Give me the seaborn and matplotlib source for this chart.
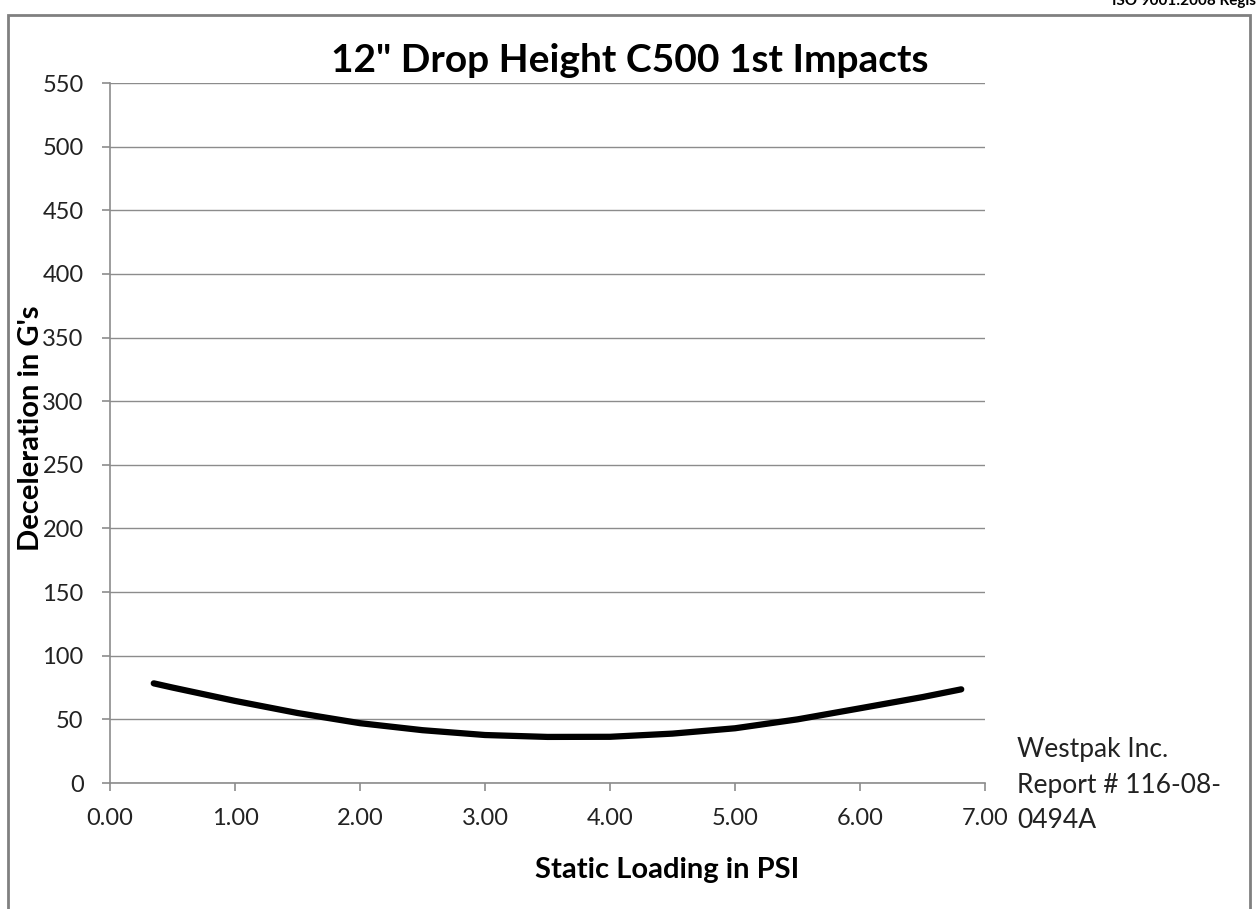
import matplotlib
matplotlib.use("Agg")
import matplotlib.pyplot as plt
import seaborn as sns
import pandas as pd
from matplotlib.patches import Rectangle

# Data
static_loading_psi = [0.35, 0.5, 1.0, 1.5, 2.0, 2.5, 3.0, 3.5, 4.0, 4.5, 5.0, 5.5, 6.0, 6.5, 6.81]
deceleration_g = [78.3, 75.0, 64.5, 55.0, 47.0, 41.5, 37.7, 36.2, 36.3, 38.8, 43.0, 50.0, 58.7, 67.5, 73.6]
y_ticks = [0, 50, 100, 150, 200, 250, 300, 350, 400, 450, 500, 550]
x_ticks = [0, 1, 2, 3, 4, 5, 6, 7]
x_tick_labels = ["0.00", "1.00", "2.00", "3.00", "4.00", "5.00", "6.00", "7.00"]

title = '12" Drop Height C500 1st Impacts'
x_label = "Static Loading in PSI"
y_label = "Deceleration in G's"
note_lines = ["Westpak Inc.", "Report # 116-08-", "0494A"]

sns.set_theme(style="white")
plt.rcParams["font.family"] = ["Lato", "DejaVu Sans"]

df = pd.DataFrame({"psi": static_loading_psi, "g": deceleration_g})

W, H = 1256, 909
fig = plt.figure(figsize=(12.56, 9.09), dpi=100)
ax = fig.add_axes([110 / W, 1 - 783 / H, 875 / W, 700 / H])

sns.lineplot(data=df, x="psi", y="g", ax=ax, color="black", linewidth=4.5,
             solid_capstyle="round", sort=True)

ax.set_xlim(0, 7)
ax.set_ylim(0, 550)
ax.set_yticks(y_ticks)
ax.set_xticks(x_ticks)
ax.set_xticklabels(x_tick_labels)
ax.yaxis.grid(True, color="#8c8c8c", linewidth=1)
ax.xaxis.grid(False)
ax.set_axisbelow(True)
for s in ["top", "right"]:
    ax.spines[s].set_visible(False)
for s in ["left", "bottom"]:
    ax.spines[s].set_color("#8c8c8c")
    ax.spines[s].set_linewidth(1.2)
ax.tick_params(axis="both", which="major", length=6, width=1.2, color="#8c8c8c",
               labelsize=17, labelcolor="#222222", direction="out", bottom=True, left=True)
ax.tick_params(axis="x", pad=12)
ax.tick_params(axis="y", pad=13)
ax.set_xlabel("")
ax.set_ylabel("")

fig.text(630 / W, 1 - 60 / H, title, ha="center", va="center", fontsize=28,
         fontweight="bold", color="black")
fig.text(667 / W, 1 - 870 / H, x_label, ha="center", va="center", fontsize=21,
         fontweight="bold", color="black")
fig.text(31 / W, 1 - 428 / H, y_label, ha="center", va="center", fontsize=21,
         fontweight="bold", color="black", rotation=90)
for line, yc in zip(note_lines, [749, 785, 821]):
    fig.text(1017 / W, 1 - yc / H, line, ha="left", va="center", fontsize=19,
             color="#222222")

fig.text(1112 / W, 0.9985, "ISO 9001:2008 Registered", ha="left", va="center",
         fontsize=11, fontweight="bold", color="black")

fig.patches.append(Rectangle((8 / W, -0.05), (1250 - 8) / W, 1.05 - 15 / H,
                             transform=fig.transFigure, fill=False,
                             edgecolor="#808080", linewidth=2))

fig.savefig("out.png", dpi=100, facecolor="white")
